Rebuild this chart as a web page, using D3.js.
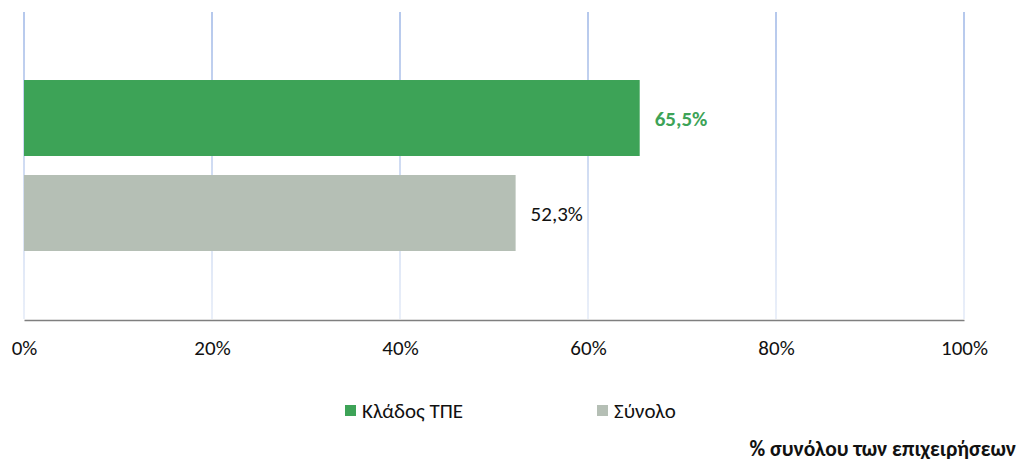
<!DOCTYPE html>
<html>
<head>
<meta charset="utf-8">
<script src="https://cdn.jsdelivr.net/npm/d3@7"></script>
<style>
  body { margin: 0; background: #fff; }
  svg { font-family: Carlito, "Open Sans", "Liberation Sans", sans-serif; }
</style>
</head>
<body>
<div class="chart"></div>
<script>
const categories = ["Κλάδος ΤΠΕ", "Σύνολο"];
const values = [65.5, 52.3];
const colors = ["#3da357", "#b5bfb5"];
const tickValues = [0, 20, 40, 60, 80, 100];

const width = 1019, height = 461;
const margin = {top: 12, left: 24, right: 55, bottom: 142};

const svg = d3.select(".chart").append("svg")
    .attr("width", width)
    .attr("height", height);

const grad = svg.append("defs").append("linearGradient")
    .attr("id", "gridGrad")
    .attr("gradientUnits", "userSpaceOnUse")
    .attr("x1", 0).attr("y1", margin.top)
    .attr("x2", 0).attr("y2", height - margin.bottom);
grad.append("stop").attr("offset", "0%").attr("stop-color", "#9db6e6");
grad.append("stop").attr("offset", "100%").attr("stop-color", "#e3eaf7");

const x = d3.scaleLinear()
    .domain([0, 100])
    .range([margin.left, width - margin.right]);

const y = d3.scaleBand()
    .domain(categories)
    .range([margin.top, height - margin.bottom])
    .paddingInner(0.2)
    .paddingOuter(0.716);

// gridlines
svg.append("g")
    .selectAll("line")
    .data(tickValues)
    .enter()
    .append("line")
    .attr("x1", d => x(d)).attr("x2", d => x(d))
    .attr("y1", margin.top).attr("y2", height - margin.bottom)
    .attr("stroke", "url(#gridGrad)")
    .attr("stroke-width", 1.5);

// bars
svg.append("g")
    .selectAll("rect")
    .data(values)
    .enter()
    .append("rect")
    .attr("x", x(0))
    .attr("y", (d, i) => y(categories[i]))
    .attr("height", y.bandwidth())
    .attr("width", d => x(d) - x(0))
    .attr("fill", (d, i) => colors[i]);

// value labels
svg.append("g")
    .selectAll("text")
    .data(values)
    .enter()
    .append("text")
    .attr("x", d => x(d) + 15)
    .attr("y", (d, i) => y(categories[i]) + y.bandwidth() / 2 + 1)
    .attr("dy", ".35em")
    .attr("font-size", 21)
    .attr("font-weight", (d, i) => i === 0 ? "bold" : "normal")
    .attr("fill", (d, i) => i === 0 ? colors[0] : "#111")
    .text(d => d.toFixed(1).replace(".", ",") + "%");

// x axis
const axis = svg.append("g")
    .attr("transform", "translate(0," + (height - margin.bottom + 1) + ")")
    .call(d3.axisBottom(x).tickValues(tickValues).tickSize(0).tickPadding(20)
        .tickFormat(d => d + "%"))
    .attr("font-family", null)
    .attr("font-size", null);
axis.select(".domain").attr("stroke", "#7f7f7f").attr("stroke-width", 1.5);
axis.selectAll("text")
    .attr("font-size", 21)
    .attr("fill", "#111");

// legend
const legendX = [345, 597];
const legend = svg.append("g")
    .selectAll("g")
    .data(categories)
    .enter()
    .append("g")
    .attr("transform", (d, i) => "translate(" + legendX[i] + ",405)");
legend.append("rect")
    .attr("width", 11).attr("height", 11)
    .attr("fill", (d, i) => colors[i]);
legend.append("text")
    .attr("x", 17).attr("y", 6)
    .attr("dy", ".35em")
    .attr("font-size", 21)
    .attr("fill", "#111")
    .text(d => d);

// axis title
svg.append("text")
    .attr("x", 1016).attr("y", 456)
    .attr("text-anchor", "end")
    .attr("font-size", 21.5)
    .attr("font-weight", "bold")
    .attr("fill", "#111")
    .text("% συνόλου των επιχειρήσεων");
</script>
</body>
</html>
